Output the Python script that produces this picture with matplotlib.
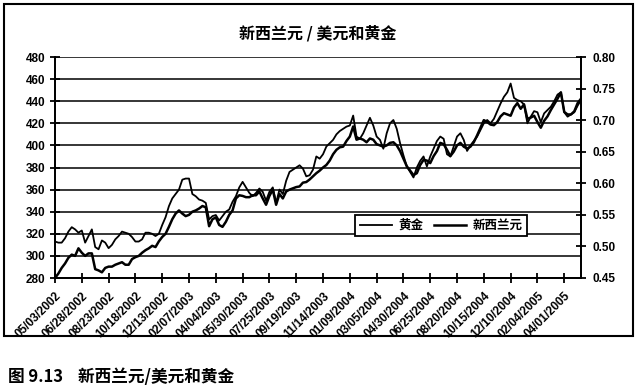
import numpy as np
import matplotlib
matplotlib.use("Agg")
import matplotlib.pyplot as plt
from matplotlib.patches import Rectangle
from matplotlib.ticker import FormatStrFormatter

plt.rcParams['font.family'] = ['Liberation Sans', 'Noto Sans CJK SC', 'DejaVu Sans']
plt.rcParams['font.weight'] = 'bold'

# weekly data, first week 05/03/2002
tick_labels = ['05/03/2002', '06/28/2002', '08/23/2002', '10/18/2002', '12/13/2002',
               '02/07/2003', '04/04/2003', '05/30/2003', '07/25/2003', '09/19/2003',
               '11/14/2003', '01/09/2004', '03/05/2004', '04/30/2004', '06/25/2004',
               '08/20/2004', '10/15/2004', '12/10/2004', '02/04/2005', '04/01/2005']

# gold, USD per ounce (left axis)
gold = [313, 312, 312, 316, 322, 326, 324, 321,
        323, 312, 318, 324, 308, 306, 314, 312,
        307, 310, 315, 318, 322, 321, 320, 317,
        313, 313, 315, 321, 321, 320, 318, 320,
        328, 335, 345, 352, 356, 360, 369, 370,
        370, 356, 354, 351, 350, 348, 333, 336,
        337, 332, 336, 340, 342, 349, 354, 362,
        367, 362, 357, 354, 357, 361, 358, 350,
        358, 362, 348, 360, 356, 368, 376, 378,
        380, 382, 379, 372, 373, 378, 390, 388,
        392, 399, 402, 405, 410, 413, 415, 417,
        418, 427, 408, 406, 411, 418, 425, 418,
        408, 405, 397, 411, 420, 423, 415, 402,
        391, 381, 376, 371, 380, 386, 390, 381,
        390, 397, 404, 408, 406, 392, 390, 399,
        408, 411, 405, 395, 400, 404, 408, 414,
        420, 423, 420, 424, 431, 438, 444, 448,
        456, 443, 441, 440, 437, 420, 426, 431,
        430, 421, 429, 432, 435, 440, 446, 448,
        430, 426, 428, 430, 436, 441]

# NZD/USD (right axis)
nzd = [.450, .457, .466, .473, .482, .487, .485, .497,
       .490, .485, .489, .489, .464, .462, .459, .466,
       .468, .468, .471, .473, .475, .471, .471, .480,
       .483, .485, .490, .494, .497, .501, .499, .508,
       .515, .520, .531, .543, .552, .557, .552, .548,
       .550, .555, .557, .560, .564, .562, .532, .543,
       .546, .534, .531, .539, .550, .557, .576, .581,
       .580, .578, .578, .581, .581, .587, .576, .566,
       .580, .590, .566, .583, .576, .587, .590, .592,
       .594, .595, .601, .602, .606, .611, .616, .620,
       .625, .629, .636, .646, .653, .657, .658, .667,
       .674, .690, .669, .671, .669, .665, .671, .669,
       .662, .660, .658, .660, .664, .665, .660, .651,
       .639, .627, .620, .613, .616, .629, .637, .636,
       .632, .643, .651, .664, .662, .653, .643, .650,
       .660, .664, .658, .655, .658, .665, .676, .688,
       .700, .697, .693, .692, .697, .706, .711, .709,
       .707, .720, .727, .718, .725, .702, .704, .707,
       .697, .688, .699, .706, .716, .725, .734, .744,
       .713, .709, .709, .714, .727, .734]

weeks = np.arange(len(gold))

fig = plt.figure(figsize=(6.38, 3.87), dpi=100)
fig.patch.set_facecolor('white')

# outer chart border
fig.patches.append(Rectangle((4 / 638, 1 - 336 / 387), 629 / 638, 332 / 387,
                             transform=fig.transFigure, fill=False,
                             edgecolor='black', linewidth=1.5))

ax = fig.add_axes([55 / 638, 1 - 278 / 387, 526 / 638, 221 / 387])
ax2 = ax.twinx()

ax.set_ylim(280, 480)
ax.set_yticks(np.arange(280, 481, 20))
ax.grid(axis='y', color='black', linewidth=1.1)
ax.set_axisbelow(True)
ax.set_xlim(0, len(gold) - 1)
ax.set_xticks(np.arange(0, len(gold), 8))
ax.set_xticklabels(tick_labels, rotation=45, ha='right', va='top',
                   rotation_mode='anchor', fontsize=5.8, fontweight='bold')

ax2.set_ylim(0.45, 0.80)
ax2.set_yticks(np.arange(0.45, 0.801, 0.05))
ax2.yaxis.set_major_formatter(FormatStrFormatter('%.2f'))

for a in (ax, ax2):
    a.tick_params(direction='inout', length=7, width=1.3, labelsize=8.5)
    for s in a.spines.values():
        s.set_linewidth(1.3)
    a.spines['top'].set_visible(False)
ax.tick_params(axis='x', pad=5)
ax2.tick_params(axis='y', pad=5)

l_gold, = ax.plot(weeks, gold, color='black', linewidth=1.3, label='黄金')
l_nzd, = ax2.plot(weeks, nzd, color='black', linewidth=1.8, label='新西兰元')

leg = fig.legend(handles=[l_gold, l_nzd], loc='center', ncol=2,
                 bbox_to_anchor=(441 / 638, 1 - 225.5 / 387),
                 bbox_transform=fig.transFigure,
                 prop={'family': ['Noto Sans CJK SC'], 'weight': 'bold', 'size': 9},
                 fancybox=False, framealpha=1, edgecolor='black',
                 handlelength=2.6, handletextpad=0.5, columnspacing=0.8,
                 borderpad=0.35)
leg.get_frame().set_linewidth(1.3)

fig.text(318 / 638, 1 - 33 / 387, '新西兰元 / 美元和黄金', ha='center', va='center',
         fontsize=11.5, fontweight='bold', family=['Noto Sans CJK SC'])

fig.text(8 / 638, 1 - 377 / 387, '图 9.13    新西兰元/美元和黄金', ha='left', va='center',
         fontsize=12, fontweight='bold', family=['Noto Sans CJK SC', 'DejaVu Sans'])

fig.savefig('out.png', dpi=100, facecolor='white')
